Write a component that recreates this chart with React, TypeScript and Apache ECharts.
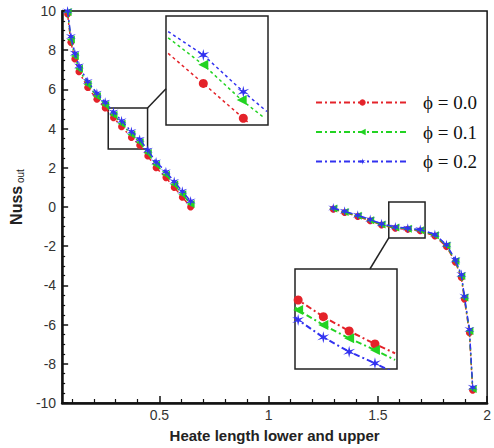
import React, { useEffect, useRef } from "react";
import * as echarts from "echarts";

// ---- Data ----
const seriesNames = ["ϕ = 0.0", "ϕ = 0.1", "ϕ = 0.2"];

const seg1X = [0.08, 0.095, 0.113, 0.132, 0.172, 0.214, 0.252, 0.29, 0.327, 0.372, 0.41, 0.447, 0.485, 0.53, 0.568, 0.605, 0.643];
const seg1Red = [9.85, 8.4, 7.55, 6.9, 6.1, 5.5, 5.05, 4.55, 4.1, 3.55, 3.15, 2.6, 2.0, 1.5, 1.0, 0.5, 0.0];
const seg1Green = [9.95, 8.55, 7.7, 7.05, 6.25, 5.65, 5.2, 4.7, 4.25, 3.7, 3.3, 2.75, 2.15, 1.65, 1.15, 0.65, 0.15];
const seg1Blue = [10.0, 8.7, 7.85, 7.2, 6.4, 5.8, 5.35, 4.85, 4.4, 3.85, 3.45, 2.9, 2.3, 1.8, 1.3, 0.8, 0.3];

const seg2X = [1.296, 1.348, 1.408, 1.465, 1.517, 1.58, 1.637, 1.694, 1.761, 1.814, 1.855, 1.882, 1.896, 1.919, 1.934];
const seg2Red = [-0.11, -0.28, -0.48, -0.7, -0.92, -1.08, -1.14, -1.21, -1.48, -2.02, -2.82, -3.6, -4.7, -6.42, -9.35];
const seg2Green = [-0.08, -0.25, -0.45, -0.67, -0.89, -1.05, -1.11, -1.18, -1.44, -1.97, -2.76, -3.52, -4.62, -6.33, -9.28];
const seg2Blue = [-0.05, -0.22, -0.42, -0.64, -0.86, -1.02, -1.08, -1.15, -1.4, -1.92, -2.7, -3.45, -4.55, -6.25, -9.2];

// inset 1 (dashed lines, markers only at middle points)
const inset1X = [0.264, 0.3295, 0.404, 0.448];
const inset1Red = [4.28, 3.7, 3.03, 2.96];
const inset1RedX = [0.264, 0.3295, 0.404, 0.412];
const inset1Green = [4.58, 4.06, 3.38, 3.03];
const inset1GreenX = [0.264, 0.3295, 0.401, 0.444];
const inset1Blue = [4.7, 4.25, 3.54, 3.16];

// inset 2
const inset2X = [1.545, 1.55, 1.59, 1.631, 1.672, 1.704];
const inset2Red = [-0.33, -0.383, -0.697, -0.966, -1.21, -1.385];
const inset2Green = [-0.52, -0.571, -0.853, -1.103, -1.323, -1.51];
const inset2Blue = [-0.7, -0.759, -1.084, -1.355, -1.573, -1.76];

// ranges
const inset1Range = { x: [0.26, 0.45], y: [2.9, 5.0] };
const inset2Range = { x: [1.545, 1.707], y: [-1.68, 0.2] };
const box1 = { x: [0.266, 0.446], y: [2.96, 5.05] };
const box2 = { x: [1.55, 1.716], y: [-1.58, 0.26] };
const connector1 = { from: [0.446, 5.05], toInsetY: 3.6 };
const connector2 = { from: [1.55, -1.58], toInsetX: 1.664 };

const xMajor = [0.5, 1, 1.5, 2];
const xMinor = [0.1, 0.2, 0.3, 0.4, 0.6, 0.7, 0.8, 0.9, 1.1, 1.2, 1.3, 1.4, 1.6, 1.7, 1.8, 1.9];

const colors = ["#e4232a", "#22d322", "#3232f0"];
const starPath =
  "path://M0,-10 L1.5,-2.6 L8.66,-5 L3,0 L8.66,5 L1.5,2.6 L0,10 L-1.5,2.6 L-8.66,5 L-3,0 L-8.66,-5 L-1.5,-2.6 Z";
const symbols = ["circle", "triangle", starPath];
const symbolSizes = [7, 8, 10];
const symbolRotates = [0, 90, 0];

const pairs = (xs: number[], ys: number[]) => xs.map((x, i) => [x, ys[i]]);

export default function App() {
  const ref = useRef<HTMLDivElement>(null);
  useEffect(() => {
    if (!ref.current) return;
    const chart = echarts.init(ref.current, null, { renderer: "svg" });
    const axisFont = { fontFamily: "Liberation Sans", fontSize: 14, color: "#333" };

    const mainSeries: any[] = [];
    const seg1 = [seg1Red, seg1Green, seg1Blue];
    const seg2 = [seg2Red, seg2Green, seg2Blue];
    for (let k = 0; k < 3; k++) {
      for (let s = 0; s < 2; s++) {
        mainSeries.push({
          name: seriesNames[k],
          type: "line",
          xAxisIndex: 0,
          yAxisIndex: 0,
          data: s === 0 ? pairs(seg1X, seg1[k]) : pairs(seg2X, seg2[k]),
          symbol: symbols[k],
          symbolSize: symbolSizes[k],
          symbolRotate: symbolRotates[k],
          showAllSymbol: true,
          color: colors[k],
          itemStyle: { color: colors[k] },
          lineStyle: { color: colors[k], width: 1.5, type: [6, 3, 2, 3] },
          z: 2 + k,
        });
      }
    }
    mainSeries[0].markArea = {
      silent: true,
      label: { show: false },
      itemStyle: { color: "rgba(0,0,0,0)", borderColor: "#222", borderWidth: 1.5 },
      data: [
        [{ xAxis: box1.x[0], yAxis: box1.y[1] }, { xAxis: box1.x[1], yAxis: box1.y[0] }],
        [{ xAxis: box2.x[0], yAxis: box2.y[1] }, { xAxis: box2.x[1], yAxis: box2.y[0] }],
      ],
    };

    const inset1Data = [
      pairs(inset1RedX, inset1Red),
      pairs(inset1GreenX, inset1Green),
      pairs(inset1X, inset1Blue),
    ];
    const inset2Data = [
      pairs(inset2X, inset2Red),
      pairs(inset2X, inset2Green),
      pairs(inset2X, inset2Blue),
    ];
    const insetSeries: any[] = [];
    for (let k = 0; k < 3; k++) {
      const d1 = inset1Data[k].map((v, i) =>
        i === 0 || i === inset1Data[k].length - 1 ? { value: v, symbol: "none" } : { value: v }
      );
      insetSeries.push({
        name: "inset1-" + k,
        type: "line",
        xAxisIndex: 2,
        yAxisIndex: 1,
        data: d1,
        symbol: symbols[k],
        symbolSize: symbolSizes[k] + 2,
        symbolRotate: symbolRotates[k],
        itemStyle: { color: colors[k] },
        lineStyle: { color: colors[k], width: 1.5, type: [3, 3] },
        z: 2 + k,
      });
      const d2 = inset2Data[k].map((v, i) =>
        i === 0 || i === inset2Data[k].length - 1 ? { value: v, symbol: "none" } : { value: v }
      );
      insetSeries.push({
        name: "inset2-" + k,
        type: "line",
        xAxisIndex: 3,
        yAxisIndex: 2,
        data: d2,
        symbol: symbols[k],
        symbolSize: symbolSizes[k] + 2,
        symbolRotate: symbolRotates[k],
        itemStyle: { color: colors[k] },
        lineStyle: { color: colors[k], width: 2, type: [6, 3, 2, 3] },
        z: 2 + k,
      });
    }

    const hiddenAxis = (gridIndex: number, range: number[]) => ({
      type: "value",
      gridIndex,
      min: range[0],
      max: range[1],
      show: false,
      splitLine: { show: false },
    });

    chart.setOption({
      animation: false,
      backgroundColor: "#fff",
      grid: [
        { left: 61, right: 2, top: 11, bottom: 45, show: true, borderColor: "#111", borderWidth: 1.5, backgroundColor: "transparent" },
        { left: 166, top: 16, width: 102, height: 109, show: true, borderColor: "#222", borderWidth: 1.5, backgroundColor: "#fff" },
        { left: 295, top: 269, width: 102, height: 100, show: true, borderColor: "#222", borderWidth: 1.5, backgroundColor: "#fff" },
      ],
      legend: {
        data: seriesNames,
        orient: "vertical",
        left: 310,
        top: 88,
        itemWidth: 93,
        itemHeight: 8,
        itemGap: 10.5,
        textStyle: { fontFamily: "Liberation Serif", fontSize: 19, color: "#111", lineHeight: 14, padding: [0, 0, 0, 9] },
      },
      xAxis: [
        {
          type: "value",
          gridIndex: 0,
          min: 0.055,
          max: 2,
          name: "Heate length lower and upper",
          nameLocation: "middle",
          nameGap: 25,
          nameTextStyle: { fontFamily: "Liberation Sans", fontSize: 15, fontWeight: "bold", color: "#222" },
          axisLine: { show: true, onZero: false, lineStyle: { color: "#111", width: 2.5 } },
          axisTick: { show: true, inside: true, length: 7, customValues: xMajor, lineStyle: { color: "#111", width: 1.5 } },
          axisLabel: { ...axisFont, margin: 5, customValues: xMajor },
          splitLine: { show: false },
        },
        {
          type: "value",
          gridIndex: 0,
          min: 0.055,
          max: 2,
          position: "bottom",
          axisLine: { show: false, onZero: false },
          axisTick: { show: true, inside: true, length: 4, customValues: xMinor, lineStyle: { color: "#111", width: 1.2 } },
          axisLabel: { show: false },
          splitLine: { show: false },
        },
        hiddenAxis(1, inset1Range.x),
        hiddenAxis(2, inset2Range.x),
      ],
      yAxis: [
        {
          type: "value",
          gridIndex: 0,
          min: -10,
          max: 10,
          interval: 2,
          name: "{a|Nuss}{b| out}",
          nameLocation: "middle",
          nameRotate: 90,
          nameGap: 30,
          nameTextStyle: {
            padding: [0, 0, 0, 20],
            rich: {
              a: { fontFamily: "Liberation Sans", fontSize: 16, fontWeight: "bold", color: "#222", lineHeight: 18 },
              b: { fontFamily: "Liberation Sans", fontSize: 10, color: "#222", lineHeight: 18, verticalAlign: "bottom" },
            },
          },
          axisLine: { show: true, onZero: false, lineStyle: { color: "#111", width: 2.5 } },
          axisTick: { show: true, inside: true, length: 6, lineStyle: { color: "#111", width: 1.5 } },
          minorTick: { show: true, splitNumber: 4, length: 3, lineStyle: { color: "#111", width: 1.2 } },
          axisLabel: { ...axisFont, margin: 6 },
          splitLine: { show: false },
        },
        hiddenAxis(1, inset1Range.y),
        hiddenAxis(2, inset2Range.y),
      ],
      series: [...mainSeries, ...insetSeries],
    });

    const a1 = chart.convertToPixel({ gridIndex: 0 }, connector1.from) as number[];
    const b1 = chart.convertToPixel({ gridIndex: 1 }, [inset1Range.x[0], connector1.toInsetY]) as number[];
    const a2 = chart.convertToPixel({ gridIndex: 0 }, connector2.from) as number[];
    const b2 = chart.convertToPixel({ gridIndex: 2 }, [connector2.toInsetX, inset2Range.y[1]]) as number[];
    chart.setOption({
      graphic: [
        { type: "line", shape: { x1: a1[0], y1: a1[1], x2: b1[0], y2: b1[1] }, style: { stroke: "#222", lineWidth: 1.5 }, z: 10 },
        { type: "line", shape: { x1: a2[0], y1: a2[1], x2: b2[0], y2: b2[1] }, style: { stroke: "#222", lineWidth: 1.5 }, z: 10 },
      ],
    });

    return () => chart.dispose();
  }, []);
  return <div ref={ref} style={{ position: "fixed", left: 0, top: 0, width: 494, height: 448 }} />;
}
